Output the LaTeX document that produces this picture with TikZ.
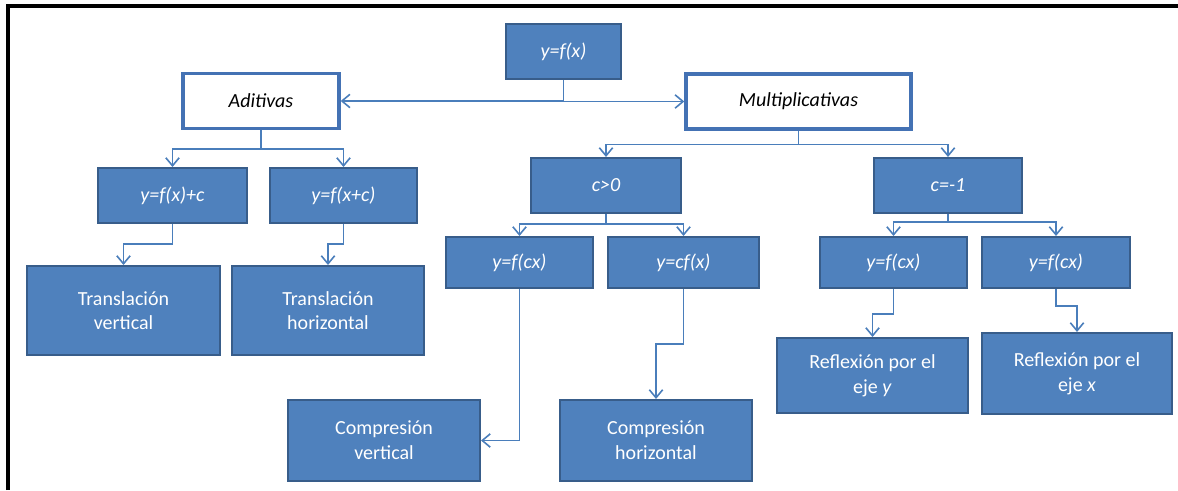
\documentclass[tikz,border=0pt]{standalone}
\usepackage{fontspec}
\setmainfont{Carlito}
\usetikzlibrary{arrows.meta}

\definecolor{boxblue}{RGB}{79,129,189}
\definecolor{edgeblue}{RGB}{56,93,138}
\definecolor{headblue}{RGB}{68,114,180}
\definecolor{lineblue}{RGB}{74,126,187}

\begin{document}
\begin{tikzpicture}[x=0.75pt, y=-0.75pt,
  bluebox/.style={draw=edgeblue, line width=1.5pt, fill=boxblue, text=white,
    font=\fontsize{15}{18.5}\selectfont, align=center, inner sep=0pt, minimum height=41.25pt},
  whitebox/.style={draw=headblue, line width=2.5pt, fill=white,
    font=\itshape\fontsize{15}{18.5}\selectfont, inner sep=0pt, minimum height=41.25pt},
  link/.style={draw=lineblue, line width=1.2pt, -{Straight Barb[length=6pt,width=10pt]}}]
  \useasboundingbox (0,0) rectangle (1178,490);
  \draw[line width=2.5pt] (8,490) -- (8,6) -- (1178,6);

  % Transformaciones
  \node[bluebox, minimum width=86.25pt] (fx) at (563.5,51.5) {\textit{y=f(x)}};
  \node[whitebox, minimum width=117pt] (adit) at (261,101) {Aditivas};
  \node[whitebox, minimum width=168.75pt] (mult) at (798.5,101.5) {Multiplicativas};

  \node[bluebox, minimum width=111.75pt] (fxc) at (172.5,195.5) {\textit{y=f(x)+c}};
  \node[bluebox, minimum width=110.25pt] (fxpc) at (343.5,195.5) {\textit{y=f(x+c)}};
  \node[bluebox, minimum width=112.5pt] (cpos) at (606,185.5) {\textit{c>0}};
  \node[bluebox, minimum width=111pt] (cneg) at (948,185.5) {\textit{c=-1}};

  \node[bluebox, minimum width=110.25pt, minimum height=38.25pt] (fcx1) at (519.5,262.5) {\textit{y=f(cx)}};
  \node[bluebox, minimum width=113.25pt, minimum height=38.25pt] (cfx) at (683.5,262.5) {\textit{y=cf(x)}};
  \node[bluebox, minimum width=110.25pt, minimum height=38.25pt] (fcx2) at (893.5,262.5) {\textit{y=f(cx)}};
  \node[bluebox, minimum width=111pt, minimum height=38.25pt] (fcx3) at (1056,262.5) {\textit{y=f(cx)}};

  \node[bluebox, minimum width=144.75pt, minimum height=66.75pt] (tv) at (123.5,310.5) {Translación\\vertical};
  \node[bluebox, minimum width=144pt, minimum height=66.75pt] (th) at (328,310.5) {Translación\\horizontal};
  \node[bluebox, minimum width=144pt, minimum height=60.75pt] (cv) at (384,440.5) {Compresión\\vertical};
  \node[bluebox, minimum width=144pt, minimum height=60.75pt] (ch) at (656,440.5) {Compresión\\horizontal};
  \node[bluebox, minimum width=143.25pt, minimum height=56.25pt] (ry) at (872.5,375.5) {Reflexión por el\\eje \textit{y}};
  \node[bluebox, minimum width=142.5pt, minimum height=60.75pt] (rx) at (1077,373.5) {Reflexión por el\\eje \textit{x}};

  \draw[link] (fx.south) |- (adit.east);
  \draw[link] (fx.south) |- (mult.west);

  \draw[link] (adit.south) -- ++(0,19) -| (fxc.north);
  \draw[link] (adit.south) -- ++(0,19) -| (fxpc.north);
  \draw[link] (mult.south) -- ++(0,14) -| (cpos.north);
  \draw[link] (mult.south) -- ++(0,14) -| (cneg.north);
  \draw[link] (cpos.south) -- ++(0,10) -| (fcx1.north);
  \draw[link] (cpos.south) -- ++(0,10) -| (cfx.north);
  \draw[link] (cneg.south) -- ++(0,8) -| (fcx2.north);
  \draw[link] (cneg.south) -- ++(0,8) -| (fcx3.north);

  \draw[link] (fxc.south) -- ++(0,20) -| (tv.north);
  \draw[link] (fxpc.south) -- ++(0,20) -| (th.north);
  \draw[link] (fcx1.south) |- (cv.east);
  \draw[link] (cfx.south) -- ++(0,55) -| (ch.north);
  \draw[link] (fcx2.south) -- ++(0,25) -| (ry.north);
  \draw[link] (fcx3.south) -- ++(0,17) -| (rx.north);
\end{tikzpicture}
\end{document}
